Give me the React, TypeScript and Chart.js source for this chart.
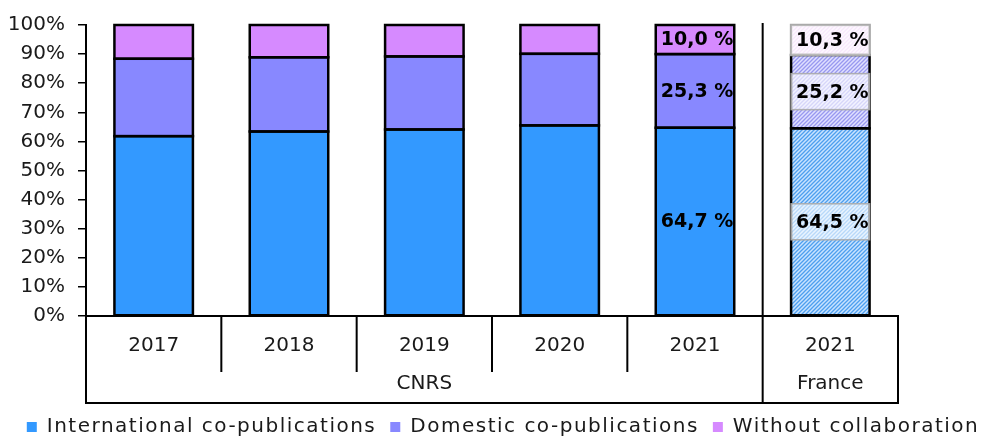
import React, { useEffect, useRef } from 'react';
import { Chart, registerables } from 'chart.js';

Chart.register(...registerables);

const categories = ['2017', '2018', '2019', '2020', '2021', '2021'];
const groupNames = ['CNRS', 'France'];
const groupOf = [0, 0, 0, 0, 0, 1];
const international = [61.8, 63.4, 64.1, 65.5, 64.7, 64.5];
const domestic = [26.6, 25.5, 25.1, 24.6, 25.3, 25.2];
const without = [11.6, 11.1, 10.8, 9.9, 10.0, 10.3];
const seriesNames = ['International co-publications', 'Domestic co-publications', 'Without collaboration'];
const labelledIndices = [4, 5];
const hatchedIndex = 5;

const FONT = '"DejaVu Sans", sans-serif';
const TEXT = '#1a1a1a';
const LEGEND_SPACING = '1.5px';
const solidColors = ['#3399FF', '#8888FF', '#D68AFF'];
const hatchColors = [
  ['#c9e3ff', '#4d9fef'],
  ['#e0e0ff', '#9898f0'],
  ['#fbf1ff', '#ebc6f7'],
];

function makeHatch(bg: string, fg: string) {
  const c = document.createElement('canvas');
  c.width = 4;
  c.height = 4;
  const g = c.getContext('2d')!;
  g.fillStyle = bg;
  g.fillRect(0, 0, 4, 4);
  g.strokeStyle = fg;
  g.lineWidth = 1.3;
  g.beginPath();
  g.moveTo(-1, 5); g.lineTo(5, -1);
  g.moveTo(-1, 1); g.lineTo(1, -1);
  g.moveTo(3, 5); g.lineTo(5, 3);
  g.stroke();
  return g.createPattern(c, 'repeat');
}

const segmentBorderColor = (si: number, idx: number) =>
  si === 2 && idx === hatchedIndex ? '#aaaaaa' : '#000000';

const legendSpacingPlugin = {
  id: 'legendSpacing',
  beforeLayout(chart: any) {
    const lg = chart.legend;
    if (!lg || lg.__spaced) return;
    const wrap = (fn: any) =>
      function (this: any, ...args: any[]) {
        const ctx = chart.ctx as any;
        const prev = ctx.letterSpacing;
        ctx.letterSpacing = LEGEND_SPACING;
        try {
          return fn.apply(lg, args);
        } finally {
          ctx.letterSpacing = prev || '0px';
        }
      };
    lg.fit = wrap(lg.fit);
    lg.draw = wrap(lg.draw);
    lg.__spaced = true;
  },
};

const boxPlugin = {
  id: 'categoryBox',
  afterDraw(chart: any) {
    const { ctx, chartArea, scales } = chart;
    const xs = scales.x;
    const px = (i: number) => xs.getPixelForValue(i);
    const bottom = chartArea.bottom;
    const boxBottom = bottom + 87;
    const yearBottom = bottom + 56;
    ctx.save();
    ctx.strokeStyle = '#000';
    ctx.lineWidth = 2;
    ctx.beginPath();
    ctx.moveTo(chartArea.left, bottom); ctx.lineTo(chartArea.left, boxBottom);
    ctx.moveTo(chartArea.right, bottom); ctx.lineTo(chartArea.right, boxBottom);
    ctx.moveTo(chartArea.left - 1, boxBottom); ctx.lineTo(chartArea.right + 1, boxBottom);
    for (let i = 0; i < categories.length - 1; i++) {
      const mx = (px(i) + px(i + 1)) / 2;
      if (groupOf[i] !== groupOf[i + 1]) {
        ctx.moveTo(mx, chartArea.top - 2); ctx.lineTo(mx, boxBottom);
      } else {
        ctx.moveTo(mx, bottom); ctx.lineTo(mx, yearBottom);
      }
    }
    ctx.stroke();
    ctx.fillStyle = TEXT;
    ctx.font = `20px ${FONT}`;
    ctx.textAlign = 'center';
    ctx.textBaseline = 'middle';
    groupNames.forEach((name, g) => {
      const idx = groupOf.map((v, i) => (v === g ? i : -1)).filter((i) => i >= 0);
      const cx = (px(idx[0]) + px(idx[idx.length - 1])) / 2;
      ctx.fillText(name, cx, bottom + 68);
    });
    ctx.restore();
  },
};

const barBorderPlugin = {
  id: 'barBorders',
  afterDatasetsDraw(chart: any) {
    const { ctx } = chart;
    ctx.save();
    ctx.lineWidth = 2.5;
    chart.data.datasets.forEach((_ds: any, di: number) => {
      const meta = chart.getDatasetMeta(di);
      meta.data.forEach((bar: any, idx: number) => {
        const { x, y, base, width } = bar.getProps(['x', 'y', 'base', 'width'], true);
        ctx.strokeStyle = segmentBorderColor(di, idx);
        ctx.strokeRect(x - width / 2, Math.min(y, base), width, Math.abs(base - y));
      });
    });
    ctx.restore();
  },
};

const labelPlugin = {
  id: 'segmentLabels',
  afterDatasetsDraw(chart: any) {
    const { ctx } = chart;
    ctx.save();
    chart.data.datasets.forEach((ds: any, di: number) => {
      const meta = chart.getDatasetMeta(di);
      labelledIndices.forEach((idx) => {
        const bar = meta.data[idx];
        if (!bar) return;
        const { x, y, base, width } = bar.getProps(['x', 'y', 'base', 'width'], true);
        const cy = (y + base) / 2;
        const top = Math.min(y, base);
        const bot = Math.max(y, base);
        if (idx === hatchedIndex) {
          const bt = Math.max(cy - 18, top);
          const bb = Math.min(cy + 18, bot);
          ctx.fillStyle = 'rgba(255,255,255,0.6)';
          ctx.fillRect(x - width / 2, bt, width, bb - bt);
          ctx.strokeStyle = 'rgba(170,170,170,0.9)';
          ctx.lineWidth = 1.5;
          ctx.strokeRect(x - width / 2, bt, width, bb - bt);
        }
        const v = ds.data[idx];
        const txt = v.toFixed(1).replace('.', ',') + ' %';
        ctx.fillStyle = '#000';
        ctx.font = `bold 19px ${FONT}`;
        ctx.textAlign = 'center';
        ctx.textBaseline = 'middle';
        ctx.fillText(txt, x + 2, cy + 1);
      });
    });
    ctx.restore();
  },
};

export default function App() {
  const ref = useRef<HTMLCanvasElement | null>(null);
  useEffect(() => {
    document.body.style.margin = '0';
    const canvas = ref.current;
    if (!canvas) return;
    const patterns = hatchColors.map(([bg, fg]) => makeHatch(bg, fg));
    const series = [international, domestic, without];
    const datasets = series.map((data, si) => ({
      label: seriesNames[si],
      data,
      backgroundColor: (c: any) => (c.dataIndex === hatchedIndex ? patterns[si] : solidColors[si]),
      borderWidth: 0,
      barPercentage: 0.58,
      categoryPercentage: 1,
    }));
    const chart = new Chart(canvas, {
      type: 'bar',
      data: { labels: categories, datasets },
      options: {
        responsive: false,
        animation: false,
        layout: { padding: { top: 24, left: 0, right: 0, bottom: -11 } },
        plugins: {
          tooltip: { enabled: false },
          legend: {
            position: 'bottom',
            labels: {
              boxWidth: 10,
              boxHeight: 10,
              padding: 14,
              color: TEXT,
              font: { family: FONT, size: 20 },
              generateLabels: (ch: any) =>
                (Chart.defaults.plugins.legend.labels as any)
                  .generateLabels(ch)
                  .map((l: any) => ({ ...l, lineWidth: 0, strokeStyle: 'rgba(0,0,0,0)' })),
            },
          },
        },
        scales: {
          x: {
            stacked: true,
            grid: { display: false },
            border: { display: true, color: '#000', width: 2 },
            ticks: { color: TEXT, font: { family: FONT, size: 20 }, padding: 10, maxRotation: 0, autoSkip: false },
            afterFit: (s: any) => { s.height = 87; },
          },
          y: {
            stacked: true,
            min: 0,
            max: 100,
            ticks: { stepSize: 10, callback: (v: any) => v + '%', padding: 13, color: TEXT, font: { family: FONT, size: 20 } },
            grid: { drawOnChartArea: false, drawTicks: true, tickLength: 8, color: '#000', lineWidth: 1.5 },
            border: { display: true, color: '#000', width: 2 },
            afterFit: (s: any) => { s.width = 86; },
          },
          y2: {
            type: 'linear',
            position: 'right',
            display: true,
            grid: { display: false },
            ticks: { display: false },
            border: { display: false },
            afterFit: (s: any) => { s.width = 108; },
          },
        },
      } as any,
      plugins: [legendSpacingPlugin, barBorderPlugin, labelPlugin, boxPlugin],
    });
    return () => chart.destroy();
  }, []);
  return (
    <div style={{ width: 1006, height: 436 }}>
      <canvas ref={ref} width={1006} height={436} />
    </div>
  );
}
